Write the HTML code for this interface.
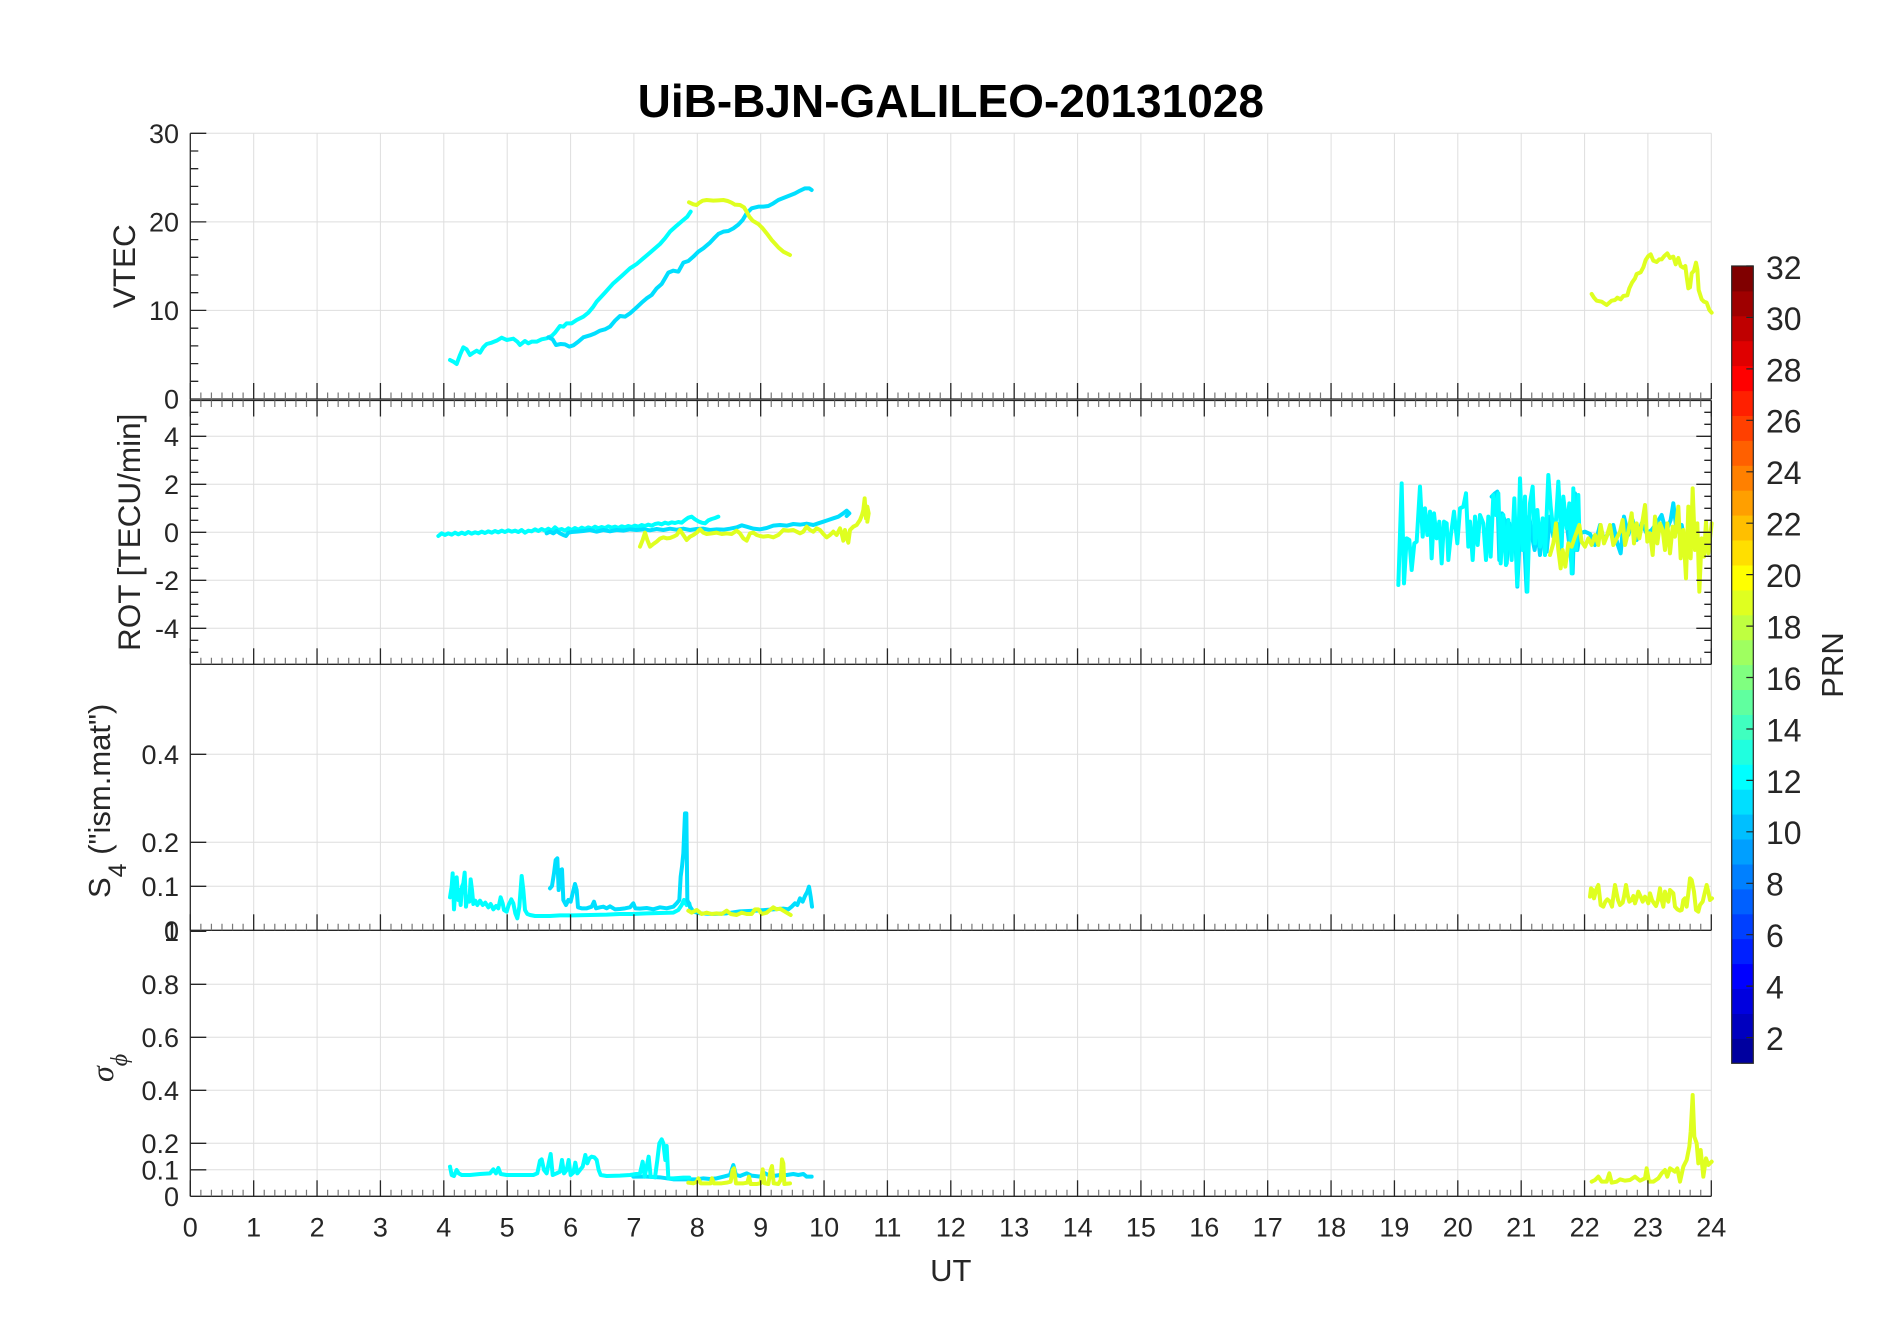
<!DOCTYPE html>
<html><head><meta charset="utf-8"><style>
html,body{margin:0;padding:0;background:#fff;}
svg{display:block;}
text{font-family:"Liberation Sans",Arial,sans-serif;fill:#262626;}
</style></head><body>
<svg width="1902" height="1330" viewBox="0 0 1902 1330" xmlns="http://www.w3.org/2000/svg">
<defs>
<g id="hr">
<path d="M0,0v-16" stroke="#262626" stroke-width="1.3"/>
<path d="M10.5625,0v-6.5M21.125,0v-6.5M31.6875,0v-6.5M42.25,0v-6.5M52.8125,0v-6.5" stroke="#777" stroke-width="1.2"/>
</g>
<g id="xrow">
<use href="#hr" x="0"/><use href="#hr" x="63.375"/><use href="#hr" x="126.75"/><use href="#hr" x="190.125"/>
<use href="#hr" x="253.5"/><use href="#hr" x="316.875"/><use href="#hr" x="380.25"/><use href="#hr" x="443.625"/>
<use href="#hr" x="507"/><use href="#hr" x="570.375"/><use href="#hr" x="633.75"/><use href="#hr" x="697.125"/>
<use href="#hr" x="760.5"/><use href="#hr" x="823.875"/><use href="#hr" x="887.25"/><use href="#hr" x="950.625"/>
<use href="#hr" x="1014"/><use href="#hr" x="1077.375"/><use href="#hr" x="1140.75"/><use href="#hr" x="1204.125"/>
<use href="#hr" x="1267.5"/><use href="#hr" x="1330.875"/><use href="#hr" x="1394.25"/><use href="#hr" x="1457.625"/>
<path d="M1521,0v-16" stroke="#262626" stroke-width="1.3"/>
</g>
</defs>
<rect width="1902" height="1330" fill="#fff"/>

<!-- grid -->
<g stroke="#dedede" stroke-width="1" fill="none">
<path d="M253.7,133.3V1196.3M317.1,133.3V1196.3M380.4,133.3V1196.3M443.8,133.3V1196.3M507.2,133.3V1196.3M570.6,133.3V1196.3M633.9,133.3V1196.3M697.3,133.3V1196.3M760.7,133.3V1196.3M824.1,133.3V1196.3M887.4,133.3V1196.3M950.8,133.3V1196.3M1014.2,133.3V1196.3M1077.6,133.3V1196.3M1140.9,133.3V1196.3M1204.3,133.3V1196.3M1267.7,133.3V1196.3M1331.1,133.3V1196.3M1394.4,133.3V1196.3M1457.8,133.3V1196.3M1521.2,133.3V1196.3M1584.6,133.3V1196.3M1647.9,133.3V1196.3M1711.3,133.3V1196.3"/>
<path d="M190.3,133.3H1711.3M190.3,221.9H1711.3M190.3,310.4H1711.3
M190.3,436.3H1711.3M190.3,484.3H1711.3M190.3,532.3H1711.3M190.3,580.3H1711.3M190.3,628.3H1711.3
M190.3,754.3H1711.3M190.3,842.3H1711.3M190.3,886.3H1711.3
M190.3,984.3H1711.3M190.3,1037.3H1711.3M190.3,1090.3H1711.3M190.3,1143.3H1711.3M190.3,1169.8H1711.3"/>
</g>

<!-- data -->
<g fill="none" stroke-linejoin="round" stroke-linecap="round">
<!-- VTEC left -->
<g transform="translate(430,60) scale(0.33333)" stroke-width="12">
<path stroke="#00FFFF" d="M60,900 L70,905 L80,912 L90,885 L100,862 L110,868 L120,885 L130,878 L140,872 L150,878 L160,862 L170,852 L185,848 L200,842 L215,833 L230,840 L250,836 L262,845 L270,855 L285,843 L295,850 L305,845 L320,845 L335,838 L350,835 L365,828 L375,818 L390,798 L400,800 L410,790 L425,790 L440,780 L460,770 L475,758 L490,740 L500,725 L525,698 L550,670 L575,648 L600,625 L620,612 L640,595 L660,578 L690,552 L705,535 L720,515 L740,497 L760,480 L772,470 L782,455"/>
<path stroke="#00DFFF" d="M355,832 L368,838 L378,855 L392,852 L405,853 L418,860 L430,856 L445,845 L460,832 L480,826 L495,820 L510,812 L525,808 L540,800 L555,782 L570,768 L585,770 L600,760 L620,742 L635,728 L650,715 L665,705 L680,685 L695,672 L705,655 L715,638 L730,632 L745,635 L760,608 L775,603 L790,590 L805,575 L820,565 L840,548 L852,535 L865,522 L880,515 L895,513 L910,505 L925,494 L938,480 L950,460 L965,445 L985,440 L1000,440 L1015,438 L1030,430 L1045,420 L1060,414 L1080,406 L1095,400 L1110,392 L1125,385 L1138,385 L1145,390"/>
<path stroke="#DFFF20" d="M777,427 L790,433 L800,435 L808,428 L818,422 L830,420 L850,422 L865,421 L880,420 L893,423 L905,428 L915,434 L930,435 L942,442 L950,455 L958,470 L968,482 L985,492 L998,505 L1010,520 L1025,540 L1045,562 L1060,575 L1080,585"/>
</g>
<!-- VTEC right + ROT right -->
<g transform="translate(1380,230) scale(0.33333)" stroke-width="12">
<path stroke="#DFFF20" d="M635,192 L642,203 L650,212 L665,215 L680,225 L695,212 L705,210 L712,203 L722,208 L730,198 L742,196 L748,175 L756,158 L765,145 L770,132 L782,127 L790,112 L797,90 L805,78 L812,73 L820,92 L830,96 L838,88 L845,88 L853,78 L862,70 L870,84 L880,80 L887,103 L895,84 L902,108 L910,113 L916,108 L920,140 L925,175 L930,172 L935,130 L942,122 L948,98 L952,118 L956,180 L965,208 L972,215 L980,218 L988,240 L995,248"/>
<path stroke="#00DFFF" d="M335,800 L345,790 L352,785 L358,990 L366,850 L374,870 L380,1000 L388,880 L396,960 L404,870 L412,1070 L420,900 L430,880 L440,1085 L448,860 L456,920 L464,960 L472,900 L480,975 L490,870 L500,965 L510,860 L520,920 L530,880 L540,960 L550,830 L560,880 L570,960 L578,1030 L585,790 L592,960 L600,910 L615,905 L630,912 L645,945 L660,885 L672,930 L685,910 L700,885 L712,940 L722,970 L732,860 L745,915 L758,870 L770,930 L785,880 L800,910 L815,900 L830,880 L845,855 L858,905 L872,870 L880,820 L890,905 L905,885 L920,960"/>
<path stroke="#00FFFF" d="M55,1065 L65,760 L72,1060 L80,925 L88,930 L95,1020 L103,940 L110,935 L120,770 L128,920 L135,835 L142,915 L150,845 L155,985 L162,850 L170,925 L178,875 L185,1000 L192,875 L200,880 L205,990 L212,920 L222,845 L232,940 L240,835 L250,830 L258,790 L265,950 L270,875 L278,990 L285,860 L293,945 L300,855 L310,880 L318,990 L325,860 L332,980 L340,795 L348,855 L355,790 L362,1000 L370,855 L378,1005 L385,870 L395,990 L403,805 L412,1065 L420,745 L428,960 L435,800 L442,1085 L450,820 L458,770 L465,940 L472,840 L480,950 L488,865 L495,975 L505,735 L512,830 L520,900 L528,870 L535,755 L545,950 L550,800 L560,895 L568,820 L575,1030 L580,775 L588,960 L595,795 L598,910"/>
<path stroke="#DFFF20" d="M510,975 L520,940 L528,880 L535,960 L542,1015 L548,960 L556,1010 L565,940 L575,950 L585,920 L598,885 L605,935 L615,950 L625,925 L635,945 L645,915 L655,945 L662,885 L672,940 L680,920 L690,885 L700,945 L710,925 L720,905 L728,870 L735,945 L745,905 L755,850 L762,940 L770,880 L778,925 L788,870 L795,825 L802,935 L810,910 L818,975 L825,860 L832,940 L840,880 L848,900 L855,960 L862,880 L870,970 L878,890 L885,920 L895,830 L902,985 L910,900 L918,1045 L925,830 L932,985 L938,775 L945,960 L952,880 L958,1085 L965,925 L972,980 L978,875 L985,970 L995,880"/>
</g>
<!-- ROT left -->
<g transform="translate(430,480) scale(0.33333)" stroke-width="12">
<path stroke="#00FFFF" d="M25,168 L35,160 L45,165 L55,160 L65,164 L75,158 L85,163 L95,158 L105,162 L115,156 L125,161 L135,157 L145,160 L155,155 L165,159 L175,154 L185,158 L195,153 L205,157 L215,152 L225,156 L235,151 L245,155 L255,152 L265,156 L275,150 L285,158 L295,152 L305,154 L315,148 L325,153 L335,147 L345,152 L355,146 L365,152 L375,142 L385,150 L395,147 L405,152 L415,145 L425,150 L435,144 L445,149 L455,143 L465,147 L475,142 L485,146 L495,140 L505,145 L515,141 L525,144 L535,139 L545,143 L555,140 L565,144 L575,139 L585,142 L595,138 L605,141 L615,137 L625,140 L635,135 L645,138 L655,134 L665,137 L675,132 L685,130 L695,133 L705,128 L715,131 L725,127 L735,129 L745,126 L755,128 L765,120 L775,113 L785,110 L795,118 L805,124 L815,128 L825,130 L835,121 L845,117 L855,114 L865,110"/>
<path stroke="#00DFFF" d="M350,160 L360,155 L370,160 L380,153 L390,160 L400,165 L408,168 L415,158 L425,156 L440,155 L460,153 L480,150 L500,155 L520,150 L540,154 L560,150 L580,152 L600,148 L620,150 L640,148 L660,151 L680,147 L700,150 L720,146 L740,149 L760,146 L780,150 L800,147 L820,146 L840,150 L860,148 L880,149 L900,146 L920,142 L935,136 L950,140 L970,146 L990,148 L1010,144 L1030,137 L1050,135 L1070,137 L1090,132 L1110,134 L1130,131 L1150,135 L1165,130 L1180,125 L1195,120 L1210,115 L1225,110 L1240,100 L1250,92 L1258,100 L1250,108"/>
<path stroke="#DFFF20" d="M630,200 L638,180 L645,158 L652,180 L660,200 L670,192 L680,185 L690,176 L700,172 L710,175 L720,174 L730,170 L740,165 L750,150 L760,165 L770,180 L780,170 L790,165 L800,158 L810,148 L820,158 L830,162 L845,160 L860,158 L875,162 L890,160 L905,162 L920,152 L930,160 L940,175 L950,182 L960,160 L970,158 L980,165 L990,168 L1000,170 L1015,168 L1030,172 L1045,165 L1060,150 L1075,152 L1090,150 L1100,155 L1110,160 L1120,155 L1130,140 L1140,150 L1150,155 L1160,145 L1170,150 L1180,162 L1190,172 L1200,165 L1210,155 L1220,165 L1230,145 L1235,160 L1240,182 L1245,150 L1250,172 L1255,188 L1260,150 L1270,140 L1280,135 L1290,120 L1296,105 L1300,90 L1304,55 L1308,115 L1312,80 L1316,100 L1312,125"/>
</g>
<!-- S4 + sigma left -->
<g transform="translate(440,790) scale(0.33333)" stroke-width="12">
<path stroke="#00FFFF" d="M30,322 L35,290 L38,250 L42,358 L46,300 L50,262 L55,330 L58,300 L62,345 L66,290 L70,280 L74,248 L78,350 L82,320 L88,335 L92,268 L96,300 L100,342 L106,332 L112,345 L120,332 L128,345 L136,338 L145,352 L152,342 L160,358 L168,348 L175,355 L182,322 L188,340 L192,360 L200,365 L206,345 L214,328 L220,340 L226,370 L232,385 L238,350 L245,258 L250,300 L255,360 L262,372 L270,375 L285,378 L300,378 L330,378 L360,376 L400,376 L450,375 L500,374 L540,372 L580,372 L620,370 L660,369 L700,368 L715,360 L725,345 L732,330 L740,345 L748,340 L752,360"/>
<path stroke="#00DFFF" d="M330,295 L336,288 L342,250 L347,210 L352,205 L356,300 L362,240 L366,238 L370,330 L378,345 L385,330 L392,335 L398,310 L405,282 L410,300 L414,352 L425,355 L440,355 L455,350 L462,335 L468,355 L480,352 L490,350 L500,355 L510,349 L525,358 L540,357 L555,355 L570,352 L580,340 L586,355 L600,356 L620,354 L640,358 L660,352 L680,355 L700,350 L710,340 L718,330 L722,260 L726,230 L730,190 L735,70 L739,70 L742,330 L750,350 L760,365 L780,370 L820,372 L860,370 L900,364 L950,362 L1000,358 L1030,356 L1045,358 L1055,350 L1065,340 L1072,345 L1080,325 L1088,335 L1095,318 L1102,305 L1107,290 L1112,320 L1116,350"/>
<path stroke="#DFFF20" d="M745,362 L755,368 L770,360 L785,372 L800,368 L815,372 L830,370 L845,372 L860,362 L872,372 L890,375 L905,368 L920,372 L935,372 L945,358 L955,358 L965,372 L980,368 L990,360 L1000,352 L1010,358 L1020,356 L1030,362 L1040,368 L1052,375"/>
<path stroke="#00DFFF" d="M580,1160 L620,1160 L660,1162 L700,1168 L740,1168 L770,1168 L790,1165 L810,1167 L830,1165 L850,1160 L870,1155 L880,1125 L888,1155 L900,1158 L920,1150 L935,1157 L960,1160 L975,1150 L985,1155 L1000,1158 L1020,1155 L1040,1155 L1060,1152 L1075,1155 L1090,1152 L1100,1160 L1115,1160"/>
<path stroke="#00FFFF" d="M30,1130 L35,1155 L42,1158 L50,1140 L56,1150 L65,1155 L90,1155 L120,1152 L150,1150 L160,1138 L168,1150 L175,1134 L182,1152 L200,1155 L240,1155 L280,1155 L292,1150 L300,1112 L305,1108 L312,1140 L320,1150 L326,1120 L332,1092 L338,1155 L350,1150 L360,1145 L366,1110 L372,1150 L380,1140 L386,1110 L392,1155 L400,1148 L406,1118 L412,1150 L420,1140 L428,1130 L436,1095 L442,1120 L448,1105 L455,1100 L463,1102 L470,1110 L476,1140 L482,1155 L500,1158 L540,1157 L570,1155 L600,1150 L608,1115 L614,1160 L620,1130 L626,1100 L632,1160 L645,1162 L652,1110 L658,1060 L665,1048 L670,1060 L676,1110 L680,1068 L685,1165 L700,1165 L730,1163 L748,1163"/>
<path stroke="#DFFF20" d="M745,1178 L760,1180 L770,1176 L775,1165 L782,1180 L800,1180 L812,1180 L816,1165 L822,1180 L845,1180 L860,1178 L872,1175 L878,1140 L882,1135 L888,1180 L910,1180 L922,1178 L927,1160 L932,1182 L950,1182 L962,1180 L968,1138 L974,1180 L985,1182 L992,1140 L996,1128 L1001,1180 L1015,1182 L1022,1170 L1026,1108 L1030,1120 L1033,1182 L1050,1180"/>
</g>
<!-- S4 + sigma right -->
<g transform="translate(1580,860) scale(0.33333)" stroke-width="12">
<path stroke="#DFFF20" d="M30,110 L33,85 L38,90 L42,115 L46,100 L50,85 L55,75 L58,100 L62,135 L70,140 L76,125 L82,118 L90,125 L96,140 L100,110 L105,75 L110,100 L114,120 L120,135 L128,128 L132,110 L138,75 L144,110 L148,125 L155,120 L160,108 L165,130 L170,115 L175,95 L182,110 L188,125 L195,110 L200,118 L205,130 L210,100 L216,120 L222,130 L228,138 L234,120 L240,85 L245,120 L250,140 L255,95 L260,115 L265,125 L270,90 L275,95 L280,100 L285,140 L292,148 L300,152 L305,150 L310,120 L315,115 L320,140 L325,100 L330,55 L335,60 L342,95 L348,150 L355,155 L360,135 L368,125 L375,95 L380,75 L386,100 L390,120 L396,115"/>
<path stroke="#DFFF20" d="M35,965 L45,960 L55,950 L65,965 L80,965 L88,940 L95,968 L110,965 L120,958 L135,962 L150,960 L165,950 L180,962 L195,955 L200,925 L207,965 L220,965 L235,955 L245,940 L255,930 L262,950 L270,925 L285,935 L292,925 L300,965 L310,920 L320,900 L328,860 L332,815 L338,705 L343,830 L350,850 L355,910 L362,870 L370,950 L378,895 L385,915 L395,905"/>
</g>
</g>

<!-- axes lines -->
<g stroke="#262626" stroke-width="1.3" fill="none">
<path d="M190.3,133.3V1196.3"/>
<path d="M190.3,399H1711.3M190.3,400.5H1711.3M190.3,664.3H1711.3M190.3,930.3H1711.3M190.3,1196.3H1711.3M1711.3,400.5V664.3"/>
<path d="M190.3,133.3h16M190.3,221.9h16M190.3,310.4h16
M190.3,436.3h16M190.3,484.3h16M190.3,532.3h16M190.3,580.3h16M190.3,628.3h16
M190.3,754.3h16M190.3,842.3h16M190.3,886.3h16
M190.3,931.3h16M190.3,984.3h16M190.3,1037.3h16M190.3,1090.3h16M190.3,1143.3h16M190.3,1169.8h16"/>
<path d="M1711.3,436.3h-15M1711.3,484.3h-15M1711.3,532.3h-15M1711.3,580.3h-15M1711.3,628.3h-15"/>
<path d="M190.3,381.3h8M190.3,363.6h8M190.3,345.9h8M190.3,328.2h8M190.3,292.7h8M190.3,275h8M190.3,257.3h8M190.3,239.6h8M190.3,204.2h8M190.3,186.4h8M190.3,168.7h8M190.3,151h8
M190.3,412.3h8M190.3,424.3h8M190.3,448.3h8M190.3,460.3h8M190.3,472.3h8M190.3,496.3h8M190.3,508.3h8M190.3,520.3h8M190.3,544.3h8M190.3,556.3h8M190.3,568.3h8M190.3,592.3h8M190.3,604.3h8M190.3,616.3h8M190.3,640.3h8M190.3,652.3h8
M1711.3,412.3h-7M1711.3,424.3h-7M1711.3,448.3h-7M1711.3,460.3h-7M1711.3,472.3h-7M1711.3,496.3h-7M1711.3,508.3h-7M1711.3,520.3h-7M1711.3,544.3h-7M1711.3,556.3h-7M1711.3,568.3h-7M1711.3,592.3h-7M1711.3,604.3h-7M1711.3,616.3h-7M1711.3,640.3h-7M1711.3,652.3h-7"/>
</g>
<use href="#xrow" transform="translate(190.3,399)"/>
<use href="#xrow" transform="translate(190.3,400.5) scale(1,-1)"/>
<use href="#xrow" transform="translate(190.3,664.3)"/>
<use href="#xrow" transform="translate(190.3,930.3)"/>
<use href="#xrow" transform="translate(190.3,1196.3)"/>

<!-- y tick labels -->
<g font-size="27" text-anchor="end">
<text x="179" y="408.7">0</text><text x="179" y="320.1">10</text><text x="179" y="231.6">20</text><text x="179" y="143">30</text>
<text x="179" y="446">4</text><text x="179" y="494">2</text><text x="179" y="542">0</text><text x="179" y="590">-2</text><text x="179" y="638">-4</text>
<text x="179" y="940">0</text><text x="179" y="896">0.1</text><text x="179" y="852">0.2</text><text x="179" y="764">0.4</text>
<text x="179" y="1206">0</text><text x="179" y="1179.5">0.1</text><text x="179" y="1153">0.2</text><text x="179" y="1100">0.4</text><text x="179" y="1047">0.6</text><text x="179" y="994">0.8</text><text x="179" y="941">1</text>
</g>
<g font-size="27" text-anchor="middle">
<text x="190.3" y="1236.7">0</text><text x="253.7" y="1236.7">1</text><text x="317.1" y="1236.7">2</text><text x="380.4" y="1236.7">3</text><text x="443.8" y="1236.7">4</text><text x="507.2" y="1236.7">5</text><text x="570.6" y="1236.7">6</text><text x="633.9" y="1236.7">7</text><text x="697.3" y="1236.7">8</text><text x="760.7" y="1236.7">9</text><text x="824.1" y="1236.7">10</text><text x="887.4" y="1236.7">11</text><text x="950.8" y="1236.7">12</text><text x="1014.2" y="1236.7">13</text><text x="1077.6" y="1236.7">14</text><text x="1140.9" y="1236.7">15</text><text x="1204.3" y="1236.7">16</text><text x="1267.7" y="1236.7">17</text><text x="1331.1" y="1236.7">18</text><text x="1394.4" y="1236.7">19</text><text x="1457.8" y="1236.7">20</text><text x="1521.2" y="1236.7">21</text><text x="1584.6" y="1236.7">22</text><text x="1647.9" y="1236.7">23</text><text x="1711.3" y="1236.7">24</text>
</g>

<text x="950.8" y="1281" font-size="31" text-anchor="middle">UT</text>
<text transform="translate(135,266.2) rotate(-90)" font-size="31.5" text-anchor="middle">VTEC</text>
<text transform="translate(140,532.3) rotate(-90)" font-size="31.5" text-anchor="middle">ROT [TECU/min]</text>
<text transform="translate(110,898) rotate(-90)" font-size="31"><tspan>S</tspan><tspan dy="16" font-size="25">4</tspan><tspan dy="-16"> (&quot;ism.mat&quot;)</tspan></text>
<text transform="translate(113,1082) rotate(-90)" font-size="32" style="font-family:'Liberation Serif','DejaVu Serif',serif;font-style:italic"><tspan>σ</tspan><tspan dy="14" font-size="24">ϕ</tspan></text>

<text x="950.8" y="117" font-size="46" font-weight="bold" text-anchor="middle" style="fill:#000">UiB-BJN-GALILEO-20131028</text>

<!-- colorbar -->
<g>
<rect x="1731.7" y="1038.4" width="21.6" height="24.9" fill="#00009F"/>
<rect x="1731.7" y="1013.5" width="21.6" height="25.4" fill="#0000BF"/>
<rect x="1731.7" y="988.6" width="21.6" height="25.4" fill="#0000DF"/>
<rect x="1731.7" y="963.6" width="21.6" height="25.4" fill="#0000FF"/>
<rect x="1731.7" y="938.7" width="21.6" height="25.4" fill="#0020FF"/>
<rect x="1731.7" y="913.8" width="21.6" height="25.4" fill="#0040FF"/>
<rect x="1731.7" y="888.9" width="21.6" height="25.4" fill="#0060FF"/>
<rect x="1731.7" y="864" width="21.6" height="25.4" fill="#0080FF"/>
<rect x="1731.7" y="839.1" width="21.6" height="25.4" fill="#009FFF"/>
<rect x="1731.7" y="814.1" width="21.6" height="25.4" fill="#00BFFF"/>
<rect x="1731.7" y="789.2" width="21.6" height="25.4" fill="#00DFFF"/>
<rect x="1731.7" y="764.3" width="21.6" height="25.4" fill="#00FFFF"/>
<rect x="1731.7" y="739.4" width="21.6" height="25.4" fill="#20FFDF"/>
<rect x="1731.7" y="714.5" width="21.6" height="25.4" fill="#40FFBF"/>
<rect x="1731.7" y="689.6" width="21.6" height="25.4" fill="#60FF9F"/>
<rect x="1731.7" y="664.6" width="21.6" height="25.4" fill="#80FF80"/>
<rect x="1731.7" y="639.7" width="21.6" height="25.4" fill="#9FFF60"/>
<rect x="1731.7" y="614.8" width="21.6" height="25.4" fill="#BFFF40"/>
<rect x="1731.7" y="589.9" width="21.6" height="25.4" fill="#DFFF20"/>
<rect x="1731.7" y="565" width="21.6" height="25.4" fill="#FFFF00"/>
<rect x="1731.7" y="540.1" width="21.6" height="25.4" fill="#FFDF00"/>
<rect x="1731.7" y="515.1" width="21.6" height="25.4" fill="#FFBF00"/>
<rect x="1731.7" y="490.2" width="21.6" height="25.4" fill="#FF9F00"/>
<rect x="1731.7" y="465.3" width="21.6" height="25.4" fill="#FF8000"/>
<rect x="1731.7" y="440.4" width="21.6" height="25.4" fill="#FF6000"/>
<rect x="1731.7" y="415.5" width="21.6" height="25.4" fill="#FF4000"/>
<rect x="1731.7" y="390.6" width="21.6" height="25.4" fill="#FF2000"/>
<rect x="1731.7" y="365.7" width="21.6" height="25.4" fill="#FF0000"/>
<rect x="1731.7" y="340.7" width="21.6" height="25.4" fill="#DF0000"/>
<rect x="1731.7" y="315.8" width="21.6" height="25.4" fill="#BF0000"/>
<rect x="1731.7" y="290.9" width="21.6" height="25.4" fill="#9F0000"/>
<rect x="1731.7" y="266" width="21.6" height="25.4" fill="#800000"/>
<rect x="1731.7" y="266" width="21.6" height="797.3" fill="none" stroke="#262626" stroke-width="1.2"/>
<path stroke="#262626" stroke-width="1.2" d="M1753.3,1037.6h-7M1753.3,986.1h-7M1753.3,934.7h-7M1753.3,883.3h-7M1753.3,831.8h-7M1753.3,780.4h-7M1753.3,729h-7M1753.3,677.5h-7M1753.3,626.1h-7M1753.3,574.6h-7M1753.3,523.2h-7M1753.3,471.8h-7M1753.3,420.3h-7M1753.3,368.9h-7M1753.3,317.4h-7M1753.3,266h-7"/>
</g>
<g font-size="32">
<text x="1766" y="1050">2</text><text x="1766" y="998.5">4</text><text x="1766" y="947">6</text><text x="1766" y="895.7">8</text><text x="1766" y="844.2">10</text><text x="1766" y="792.8">12</text><text x="1766" y="741.4">14</text><text x="1766" y="689.9">16</text><text x="1766" y="638.5">18</text><text x="1766" y="587">20</text><text x="1766" y="535.6">22</text><text x="1766" y="484.2">24</text><text x="1766" y="432.7">26</text><text x="1766" y="381.3">28</text><text x="1766" y="329.8">30</text><text x="1766" y="279">32</text>
</g>
<text transform="translate(1843,665) rotate(-90)" font-size="31" text-anchor="middle">PRN</text>
</svg>
</body></html>
